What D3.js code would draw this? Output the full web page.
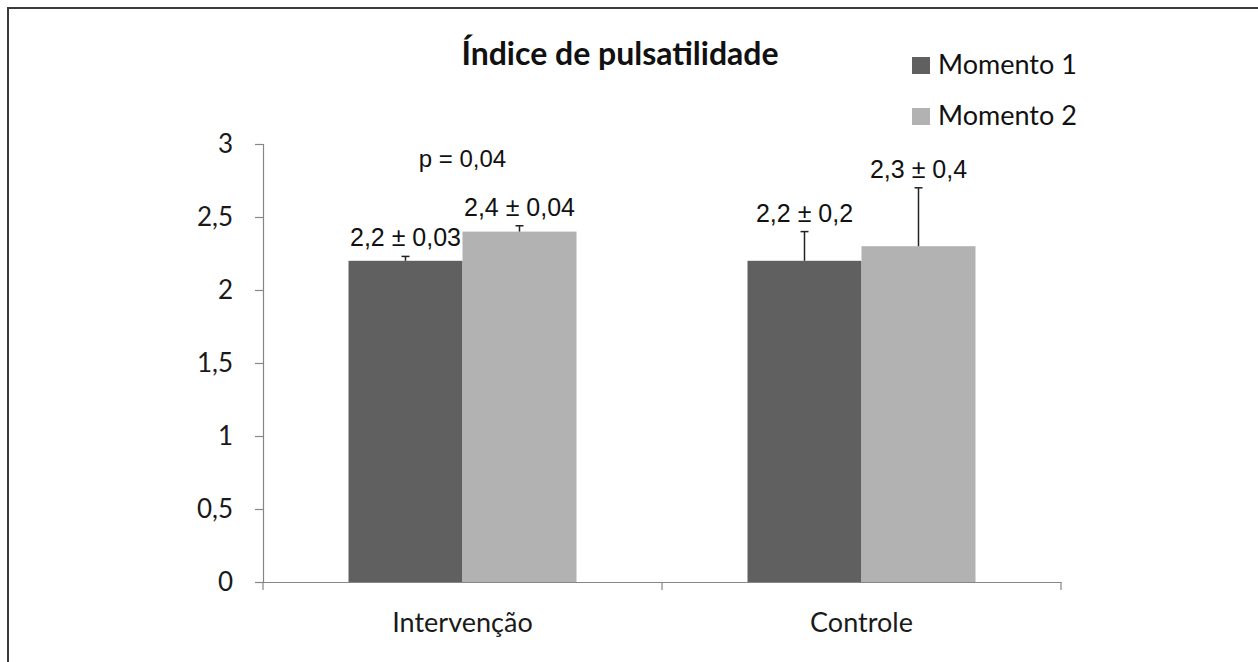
<!DOCTYPE html>
<html>
<head>
<meta charset="utf-8">
<script src="https://cdn.jsdelivr.net/npm/d3@7"></script>
<style>
  body { margin: 0; background: #fff; }
  svg { display: block; }
</style>
</head>
<body>
<svg width="1258" height="662"></svg>
<script>
// data
var categories = ["Intervenção", "Controle"];
var series = ["Momento 1", "Momento 2"];
var momento1 = [2.2, 2.2];
var momento2 = [2.4, 2.3];
var desvio1 = [0.03, 0.2];
var desvio2 = [0.04, 0.4];
var yTicks = [0, 0.5, 1, 1.5, 2, 2.5, 3];
var pValue = "p = 0,04";

var colors = ["#606060", "#b2b2b2"];
var calibriLike = "Lato, 'Open Sans', sans-serif";
var narrow = "'Liberation Sans Narrow', 'Arial Narrow', 'Liberation Sans', sans-serif";

var svg = d3.select("svg");

// outer frame (only top and left edges visible)
svg.append("rect")
    .attr("x", 8).attr("y", 8)
    .attr("width", 1400).attr("height", 800)
    .attr("fill", "none")
    .attr("stroke", "#3a3a3a")
    .attr("stroke-width", 2);

var x0 = d3.scaleBand().domain(categories).range([263, 1061]).paddingInner(0).paddingOuter(0);
var x1 = d3.scaleBand().domain(series).range([0, x0.bandwidth()]).paddingInner(0).paddingOuter(0.75);
var y = d3.scaleLinear().domain([0, 3]).range([582, 144]);

function comma(v) { return String(v).replace(".", ","); }

// y axis
var yAxis = svg.append("g")
    .attr("transform", "translate(263,0)")
    .call(d3.axisLeft(y).tickValues(yTicks).tickSize(8).tickPadding(22).tickFormat(comma));
yAxis.select(".domain").attr("stroke", "#868686").attr("stroke-width", 1.2);
yAxis.selectAll(".tick line").attr("stroke", "#868686").attr("stroke-width", 1.2);
yAxis.selectAll(".tick text")
    .attr("fill", "#1a1a1a")
    .style("font-family", calibriLike)
    .style("font-size", "26px");

// x axis
var xAxis = svg.append("g")
    .attr("transform", "translate(0,582)")
    .call(d3.axisBottom(x0).tickSize(0).tickPadding(0).tickFormat(""));
xAxis.select(".domain").attr("stroke", "#868686").attr("stroke-width", 1.2);
// category separators (ticks on band edges)
var edges = categories.map(function(c) { return x0(c); }).concat([x0.range()[1]]);
svg.append("g").selectAll("line")
    .data(edges)
    .enter().append("line")
    .attr("x1", function(d) { return d; }).attr("x2", function(d) { return d; })
    .attr("y1", 582).attr("y2", 590)
    .attr("stroke", "#868686").attr("stroke-width", 1.2);

svg.append("g").selectAll("text")
    .data(categories)
    .enter().append("text")
    .attr("x", function(d) { return x0(d) + x0.bandwidth() / 2; })
    .attr("y", 632)
    .attr("text-anchor", "middle")
    .attr("fill", "#1a1a1a")
    .style("font-family", calibriLike)
    .style("font-size", "27px")
    .text(function(d) { return d; });

// bars
var rows = [];
categories.forEach(function(c, i) {
  rows.push({ cat: c, s: series[0], v: momento1[i], e: desvio1[i], color: colors[0] });
  rows.push({ cat: c, s: series[1], v: momento2[i], e: desvio2[i], color: colors[1] });
});

var g = svg.append("g");
g.selectAll("rect")
    .data(rows)
    .enter().append("rect")
    .attr("x", function(d) { return x0(d.cat) + x1(d.s); })
    .attr("y", function(d) { return y(d.v); })
    .attr("width", x1.bandwidth())
    .attr("height", function(d) { return y(0) - y(d.v); })
    .attr("fill", function(d) { return d.color; });

// error bars (upper only)
function cx(d) { return x0(d.cat) + x1(d.s) + x1.bandwidth() / 2; }
g.selectAll(".err")
    .data(rows)
    .enter().append("line")
    .attr("class", "err")
    .attr("x1", cx).attr("x2", cx)
    .attr("y1", function(d) { return y(d.v); })
    .attr("y2", function(d) { return y(d.v + d.e); })
    .attr("stroke", "#222").attr("stroke-width", 1.5);
g.selectAll(".cap")
    .data(rows)
    .enter().append("line")
    .attr("class", "cap")
    .attr("x1", function(d) { return cx(d) - 4; })
    .attr("x2", function(d) { return cx(d) + 4; })
    .attr("y1", function(d) { return y(d.v + d.e); })
    .attr("y2", function(d) { return y(d.v + d.e); })
    .attr("stroke", "#222").attr("stroke-width", 1.5);

// value labels
g.selectAll(".lbl")
    .data(rows)
    .enter().append("text")
    .attr("class", "lbl")
    .attr("x", cx)
    .attr("y", function(d) { return y(d.v + d.e) - 10; })
    .attr("text-anchor", "middle")
    .attr("fill", "#111")
    .style("font-family", narrow)
    .style("font-size", "25px")
    .text(function(d) { return comma(d.v) + " \u00b1 " + comma(d.e); });

svg.append("text")
    .attr("x", x0(categories[0]) + x0.bandwidth() / 2)
    .attr("y", 167)
    .attr("text-anchor", "middle")
    .attr("fill", "#111")
    .style("font-family", narrow)
    .style("font-size", "24px")
    .text(pValue);

// title
svg.append("text")
    .attr("x", 620)
    .attr("y", 65)
    .attr("text-anchor", "middle")
    .attr("fill", "#111")
    .style("font-family", calibriLike)
    .style("font-weight", "bold")
    .style("font-size", "32px")
    .text("Índice de pulsatilidade");

// legend
var legend = svg.append("g").selectAll("g")
    .data(series)
    .enter().append("g")
    .attr("transform", function(d, i) { return "translate(912," + (57 + i * 51) + ")"; });
legend.append("rect")
    .attr("width", 18).attr("height", 17)
    .attr("fill", function(d, i) { return colors[i]; });
legend.append("text")
    .attr("x", 26).attr("y", 17)
    .attr("fill", "#111")
    .style("font-family", calibriLike)
    .style("font-size", "27px")
    .text(function(d) { return d; });
</script>
</body>
</html>
